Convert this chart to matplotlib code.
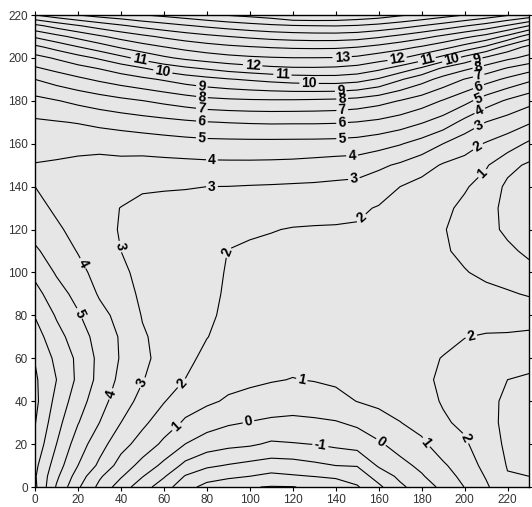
import numpy as np
import matplotlib
matplotlib.use("Agg")
import matplotlib.pyplot as plt

plt.rcParams['font.family'] = ['Liberation Sans', 'DejaVu Sans']

# grid (z per column of x, bottom to top)
x_vals = [0, 10, 20, 30, 40, 50, 60, 70, 80, 90, 100, 110, 120, 130, 140, 150,
          160, 170, 180, 190, 200, 210, 220, 230]
y_vals = [0, 5, 10, 20, 30, 40, 50, 60, 70, 80, 90, 100, 110, 120, 130, 140, 150,
          160, 170, 180, 190, 195, 200, 205, 210, 215, 220]

z_cols = [
    [7.2, 7.1, 7.25, 7.7, 8.05, 8.25, 8.15, 7.95, 7.45, 6.95, 6.35, 5.75, 5.15, 4.65, 4.3, 4.0, 3.95, 4.4, 4.85, 5.7, 7.0, 7.85, 8.67, 9.75, 11.15, 12.75, 15.0],
    [4.9, 5.2, 5.5, 6.0, 6.35, 6.7, 7.0, 6.75, 6.35, 5.9, 5.4, 4.9, 4.53, 4.15, 3.85, 3.75, 3.9, 4.29, 4.94, 5.95, 7.42, 8.25, 9.12, 10.34, 11.73, 13.38, 15.55],
    [3.15, 3.55, 4.0, 4.5, 5.05, 5.45, 5.8, 5.8, 5.5, 5.1, 4.7, 4.3, 3.95, 3.7, 3.55, 3.5, 3.8, 4.27, 5.05, 6.24, 7.8, 8.64, 9.64, 10.94, 12.3, 13.93, 16.0],
    [1.75, 2.15, 2.8, 3.4, 4.0, 4.4, 4.7, 4.75, 4.6, 4.3, 3.9, 3.65, 3.45, 3.35, 3.28, 3.3, 3.7, 4.29, 5.24, 6.51, 8.16, 9.02, 10.14, 11.51, 12.86, 14.43, 16.38],
    [0.5, 1.1, 1.6, 2.35, 3.0, 3.45, 3.75, 3.92, 3.9, 3.7, 3.45, 3.2, 3.0, 2.93, 2.98, 3.33, 3.74, 4.36, 5.4, 6.76, 8.49, 9.45, 10.73, 12.1, 13.36, 14.87, 16.64],
    [-0.55, 0.05, 0.65, 1.6, 2.2, 2.7, 3.05, 3.2, 3.1, 2.95, 2.8, 2.72, 2.7, 2.72, 2.8, 3.1, 3.67, 4.43, 5.56, 6.98, 8.79, 9.88, 11.32, 12.57, 13.79, 15.27, 16.97],
    [-1.55, -0.9, -0.25, 0.8, 1.5, 2.05, 2.5, 2.7, 2.72, 2.65, 2.6, 2.58, 2.6, 2.65, 2.78, 3.06, 3.7, 4.53, 5.7, 7.23, 9.1, 10.4, 11.83, 12.96, 14.17, 15.6, 17.23],
    [-2.65, -2.07, -1.27, -0.01, 0.86, 1.45, 1.98, 2.3, 2.45, 2.5, 2.52, 2.52, 2.55, 2.6, 2.75, 3.04, 3.73, 4.62, 5.84, 7.47, 9.45, 10.78, 12.21, 13.3, 14.5, 15.91, 17.5],
    [-3.3, -2.6, -1.83, -0.49, 0.42, 1.17, 1.4, 1.72, 2.03, 2.2, 2.3, 2.38, 2.45, 2.55, 2.73, 3.0, 3.77, 4.69, 5.96, 7.7, 9.71, 11.07, 12.49, 13.57, 14.77, 16.18, 17.79],
    [-3.7, -2.8, -2.07, -0.74, 0.12, 0.88, 1.28, 1.5, 1.65, 1.76, 1.84, 1.9, 1.98, 2.25, 2.6, 2.99, 3.78, 4.71, 6.03, 7.8, 9.93, 11.38, 12.7, 13.78, 15.0, 16.42, 18.07],
    [-3.95, -3.0, -2.28, -0.86, -0.04, 0.7, 1.18, 1.38, 1.52, 1.62, 1.7, 1.77, 1.86, 2.13, 2.55, 2.95, 3.78, 4.72, 6.08, 7.86, 10.11, 11.59, 12.84, 13.93, 15.19, 16.64, 18.27],
    [-4.05, -3.25, -2.45, -1.14, -0.16, 0.5, 1.07, 1.3, 1.45, 1.55, 1.63, 1.71, 1.8, 2.04, 2.48, 2.92, 3.76, 4.72, 6.11, 7.88, 10.29, 11.76, 12.93, 14.05, 15.36, 16.82, 18.52],
    [-4.03, -3.1, -2.4, -1.06, -0.2, 0.4, 0.97, 1.25, 1.4, 1.5, 1.58, 1.66, 1.75, 1.95, 2.41, 2.88, 3.72, 4.71, 6.1, 7.87, 10.44, 11.86, 12.98, 14.13, 15.47, 16.94, 19.02],
    [-3.85, -2.98, -2.2, -0.98, -0.14, 0.46, 1.05, 1.3, 1.45, 1.55, 1.62, 1.69, 1.77, 1.92, 2.36, 2.85, 3.63, 4.7, 6.1, 7.83, 10.51, 11.87, 12.98, 14.16, 15.53, 17.0, 19.06],
    [-3.55, -2.85, -2.0, -0.79, -0.07, 0.71, 1.15, 1.35, 1.48, 1.57, 1.64, 1.71, 1.79, 1.93, 2.24, 2.79, 3.53, 4.67, 6.07, 7.77, 10.53, 11.82, 12.96, 14.14, 15.53, 17.03, 19.0],
    [-3.1, -2.55, -1.95, -0.6, 0.18, 1.02, 1.25, 1.42, 1.53, 1.61, 1.68, 1.75, 1.82, 1.92, 2.14, 2.71, 3.49, 4.59, 5.97, 7.63, 10.36, 11.64, 12.81, 14.0, 15.43, 16.94, 18.78],
    [-2.2, -1.6, -0.88, -0.14, 0.63, 1.2, 1.42, 1.55, 1.63, 1.68, 1.72, 1.76, 1.8, 1.85, 1.94, 2.42, 3.19, 4.38, 5.79, 7.35, 9.89, 11.2, 12.45, 13.7, 15.15, 16.71, 18.55],
    [-1.2, -0.78, -0.3, 0.4, 0.98, 1.35, 1.5, 1.58, 1.62, 1.64, 1.65, 1.65, 1.66, 1.7, 1.78, 2.0, 2.85, 4.07, 5.5, 6.96, 9.1, 10.58, 12.1, 13.32, 14.77, 16.4, 18.14],
    [-0.5, -0.1, 0.22, 0.83, 1.3, 1.65, 1.85, 1.82, 1.7, 1.55, 1.42, 1.32, 1.25, 1.23, 1.35, 1.67, 2.41, 3.62, 5.07, 6.51, 8.39, 9.82, 11.48, 12.88, 14.33, 16.0, 17.8],
    [0.24, 0.6, 0.88, 1.45, 1.87, 2.08, 2.12, 2.03, 1.8, 1.55, 1.35, 1.2, 1.1, 1.05, 1.2, 1.45, 1.9, 3.0, 4.56, 5.93, 7.65, 8.8, 10.67, 12.33, 13.81, 15.57, 17.4],
    [1.02, 1.25, 1.45, 1.85, 2.2, 2.42, 2.42, 2.25, 1.98, 1.65, 1.33, 1.05, 0.82, 0.72, 0.8, 1.1, 1.67, 2.4, 3.7, 5.31, 6.96, 8.19, 9.71, 11.6, 13.24, 15.08, 17.0],
    [1.85, 2.07, 2.3, 2.6, 2.8, 2.85, 2.72, 2.45, 2.07, 1.65, 1.22, 0.82, 0.5, 0.33, 0.38, 0.62, 1.1, 1.92, 2.98, 4.49, 6.4, 7.57, 8.85, 10.8, 12.67, 14.58, 16.6],
    [2.8, 2.95, 3.05, 3.15, 3.15, 3.1, 3.0, 2.5, 2.1, 1.6, 1.1, 0.6, 0.2, -0.2, -0.3, -0.2, 0.29, 1.5, 2.56, 3.86, 5.8, 6.89, 8.22, 9.6, 11.75, 13.91, 16.1],
    [2.95, 3.0, 3.1, 3.25, 3.3, 3.25, 3.1, 2.75, 2.2, 1.55, 0.92, 0.3, -0.2, -0.5, -0.6, -0.45, -0.15, 0.83, 2.11, 3.33, 5.22, 6.38, 7.71, 8.69, 10.5, 13.0, 15.67],
]

levels = list(range(-4, 20))

# where the labels sit in the reference
label_spots = [
    (48.7, 199), (59.5, 193.6), (101.3, 196.3), (77.7, 186.9), (77.7, 181.5),
    (77.7, 176.5), (77.7, 170.3), (77.7, 163.3), (82.4, 152.8), (82.4, 140),
    (143, 200.3), (115.2, 192), (127.6, 188.2), (142.3, 185.4), (143, 181.2),
    (143, 176.5), (143, 169.5), (143, 162.6), (147.6, 154.8), (148.4, 144.7),
    (150, 127.6),
    (168.6, 199.4), (182.5, 199), (194, 199), (205.7, 199.4), (206.5, 195.2),
    (206.5, 192), (206.5, 186.6), (206.5, 181.2), (206.5, 176.5), (206.5, 168.8),
    (205.7, 159.4), (207.5, 147),
    (22.4, 104.3), (20.9, 81), (39.4, 112), (88.6, 109.7),
    (36.5, 43), (50.5, 48.3), (68.4, 48.3), (66, 28), (99.4, 30.4), (124.3, 50.7),
    (132.9, 19.6), (161.2, 21.1), (183, 21.5), (200.5, 22.7), (202.8, 71.6),
]

fig = plt.figure(figsize=(5.32, 5.07), dpi=100)
ax = fig.add_axes([35 / 532, 20 / 507, 494 / 532, 472 / 507])
ax.set_facecolor('#e6e6e6')

X, Y = np.meshgrid(x_vals, y_vals)
Z = np.array(z_cols).T
cs = ax.contour(X, Y, Z, levels=levels, colors='black', linewidths=0.8,
                linestyles='solid')
lbls = ax.clabel(cs, fmt='%d', fontsize=10, manual=label_spots, inline=True,
                 inline_spacing=2)
for t in lbls:
    t.set_fontweight('bold')

ax.set_xlim(0, 230)
ax.set_ylim(0, 220)
ax.set_xticks(range(0, 221, 20))
ax.set_yticks(range(0, 221, 20))
ax.tick_params(direction='out', length=3, pad=2, top=True, right=True,
               labelsize=8.5, labelcolor='#333333')
for s in ax.spines.values():
    s.set_linewidth(1.0)

fig.savefig('out.png', dpi=100)
